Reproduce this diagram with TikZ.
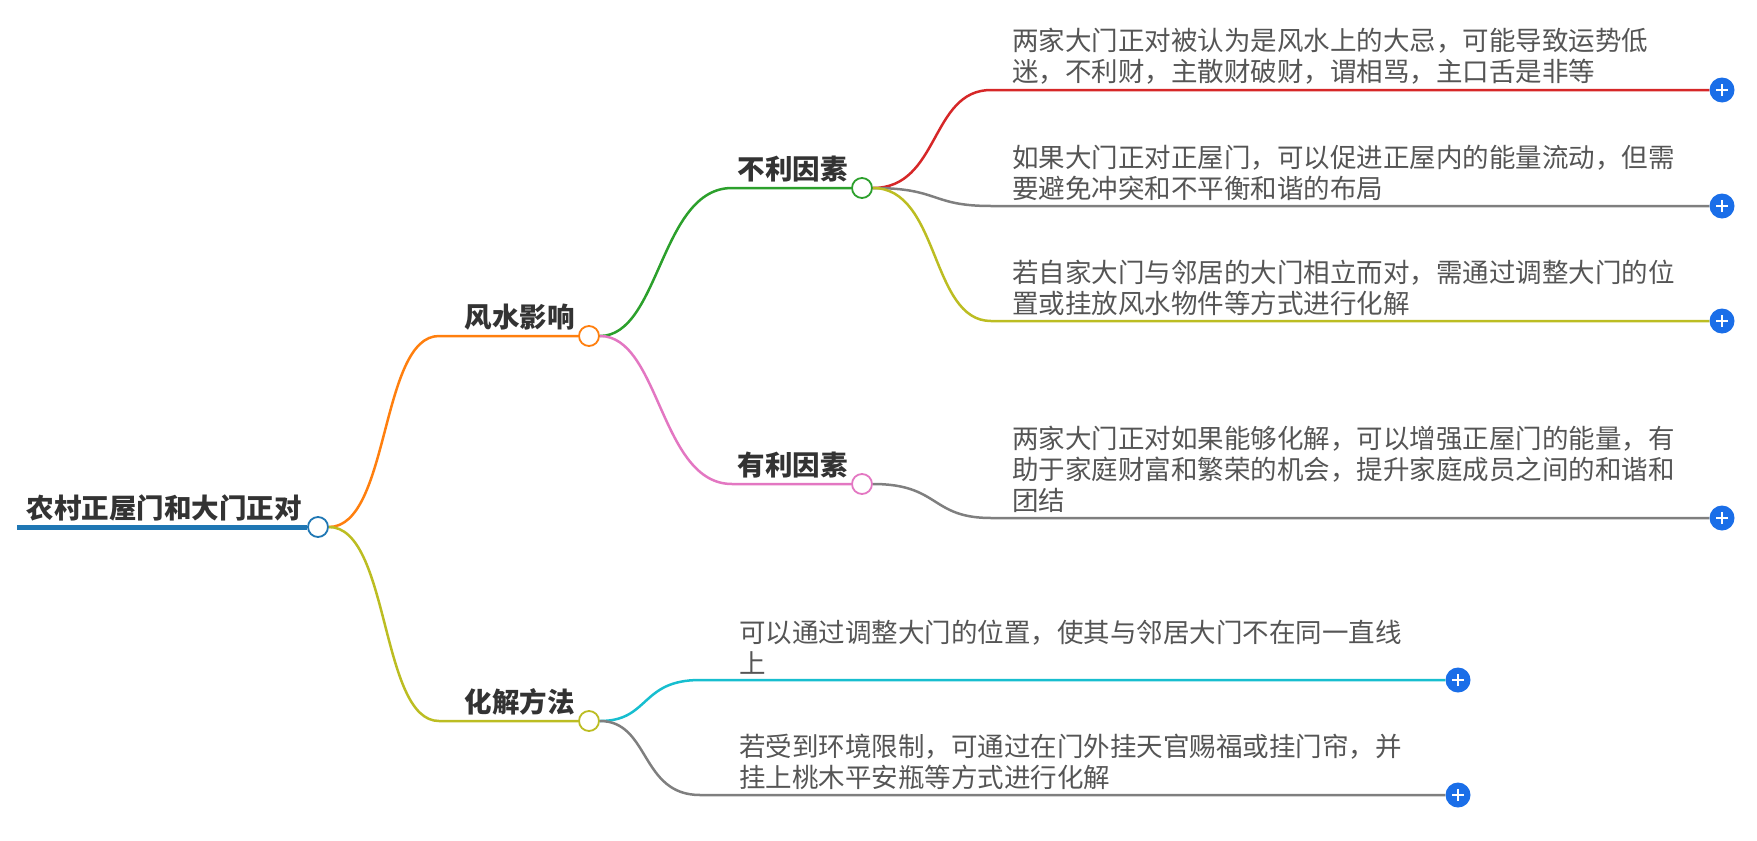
\documentclass[tikz,border=0pt]{standalone}
\usepackage{fontspec}
\setmainfont{Noto Sans CJK SC}
\definecolor{cblue}{HTML}{1F77B4}
\definecolor{corange}{HTML}{FF7F0E}
\definecolor{colive}{HTML}{BCBD22}
\definecolor{cgreen}{HTML}{2CA02C}
\definecolor{cpink}{HTML}{E377C2}
\definecolor{cred}{HTML}{D62728}
\definecolor{cgray}{HTML}{7F7F7F}
\definecolor{ccyan}{HTML}{17BECF}
\definecolor{plusblue}{HTML}{1A6EE8}
\definecolor{txt}{HTML}{555555}
\tikzset{
  lbl/.style={font=\fontsize{27.5}{32}\selectfont\bfseries, text=black!80, inner sep=0pt, anchor=south east},
  leaf/.style={font=\fontsize{26.5}{31}\selectfont, text=txt, inner sep=0pt, anchor=south west, align=left},
  dot/.style={circle, draw=#1, fill=white, line width=1.8pt, minimum size=20pt, inner sep=0pt},
  br/.style={line width=2.5pt, draw=#1},
  plus/.style={circle, fill=plusblue, minimum size=25pt, inner sep=0pt, path picture={
    \draw[white, line width=2.2pt] ([xshift=-6pt]path picture bounding box.center) -- ([xshift=6pt]path picture bounding box.center)
    ([yshift=-6pt]path picture bounding box.center) -- ([yshift=6pt]path picture bounding box.center);}}
}
\begin{document}
\begin{tikzpicture}[x=1pt,y=-1pt]
\useasboundingbox (0,0) rectangle (1757,841);
% root
\coordinate (r0) at (17,527);
\node[dot=cblue] (root) at (318,527) {};
\draw[line width=5pt, cblue] (r0) -- (root.west);
\node[lbl] (rootl) at (302,521) {农村正屋门和大门正对};
% level 1
\coordinate (f0) at (439,336);
\node[dot=corange] (f) at (589,336) {};
\coordinate (h0) at (439,721);
\node[dot=colive] (h) at (589,721) {};
\draw[br=corange] (root.east) .. controls (390,527) and (380,336) .. (f0) -- (f.west);
\draw[br=colive] (root.east) .. controls (390,527) and (380,721) .. (h0) -- (h.west);
\node[lbl] (fl) at (575,330) {风水影响};
\node[lbl] (hl) at (575,715) {化解方法};
% level 2
\coordinate (b0) at (732,188);
\node[dot=cgreen] (b) at (862,188) {};
\coordinate (y0) at (732,484);
\node[dot=cpink] (y) at (862,484) {};
\draw[br=cgreen] (f.east) .. controls (660,336) and (660,188) .. (b0) -- (b.west);
\draw[br=cpink] (f.east) .. controls (660,336) and (660,484) .. (y0) -- (y.west);
\node[lbl] (bl) at (848,182) {不利因素};
\node[lbl] (yl) at (848,478) {有利因素};
% leaves of 不利因素
\coordinate (l1a) at (991,90); \node[plus] (p1) at (1722,90) {};
\coordinate (l2a) at (991,206); \node[plus] (p2) at (1722,206) {};
\coordinate (l3a) at (991,321); \node[plus] (p3) at (1722,321) {};
\draw[br=cred] (b.east) .. controls (940,188) and (930,90) .. (l1a) -- (p1.west);
\draw[br=cgray] (b.east) .. controls (940,188) and (930,206) .. (l2a) -- (p2.west);
\draw[br=colive] (b.east) .. controls (940,188) and (930,321) .. (l3a) -- (p3.west);
\node[leaf] (t1) at (1012,85) {两家大门正对被认为是风水上的大忌，可能导致运势低\\迷，不利财，主散财破财，谓相骂，主口舌是非等};
\node[leaf] (t2) at (1012,201) {如果大门正对正屋门，可以促进正屋内的能量流动，但需\\要避免冲突和不平衡和谐的布局};
\node[leaf] (t3) at (1012,316) {若自家大门与邻居的大门相立而对，需通过调整大门的位\\置或挂放风水物件等方式进行化解};
% leaf of 有利因素
\coordinate (l4a) at (991,518); \node[plus] (p4) at (1722,518) {};
\draw[br=cgray] (y.east) .. controls (940,484) and (930,518) .. (l4a) -- (p4.west);
\node[leaf] (t4) at (1012,513) {两家大门正对如果能够化解，可以增强正屋门的能量，有\\助于家庭财富和繁荣的机会，提升家庭成员之间的和谐和\\团结};
% leaves of 化解方法
\coordinate (l5a) at (700,680); \node[plus] (p5) at (1458,680) {};
\coordinate (l6a) at (700,795); \node[plus] (p6) at (1458,795) {};
\draw[br=ccyan] (h.east) .. controls (650,721) and (640,680) .. (l5a) -- (p5.west);
\draw[br=cgray] (h.east) .. controls (650,721) and (640,795) .. (l6a) -- (p6.west);
\node[leaf] (t5) at (739,675) {可以通过调整大门的位置，使其与邻居大门不在同一直线\\上};
\node[leaf] (t6) at (739,790) {若受到环境限制，可通过在门外挂天官赐福或挂门帘，并\\挂上桃木平安瓶等方式进行化解};
\end{tikzpicture}
\end{document}
